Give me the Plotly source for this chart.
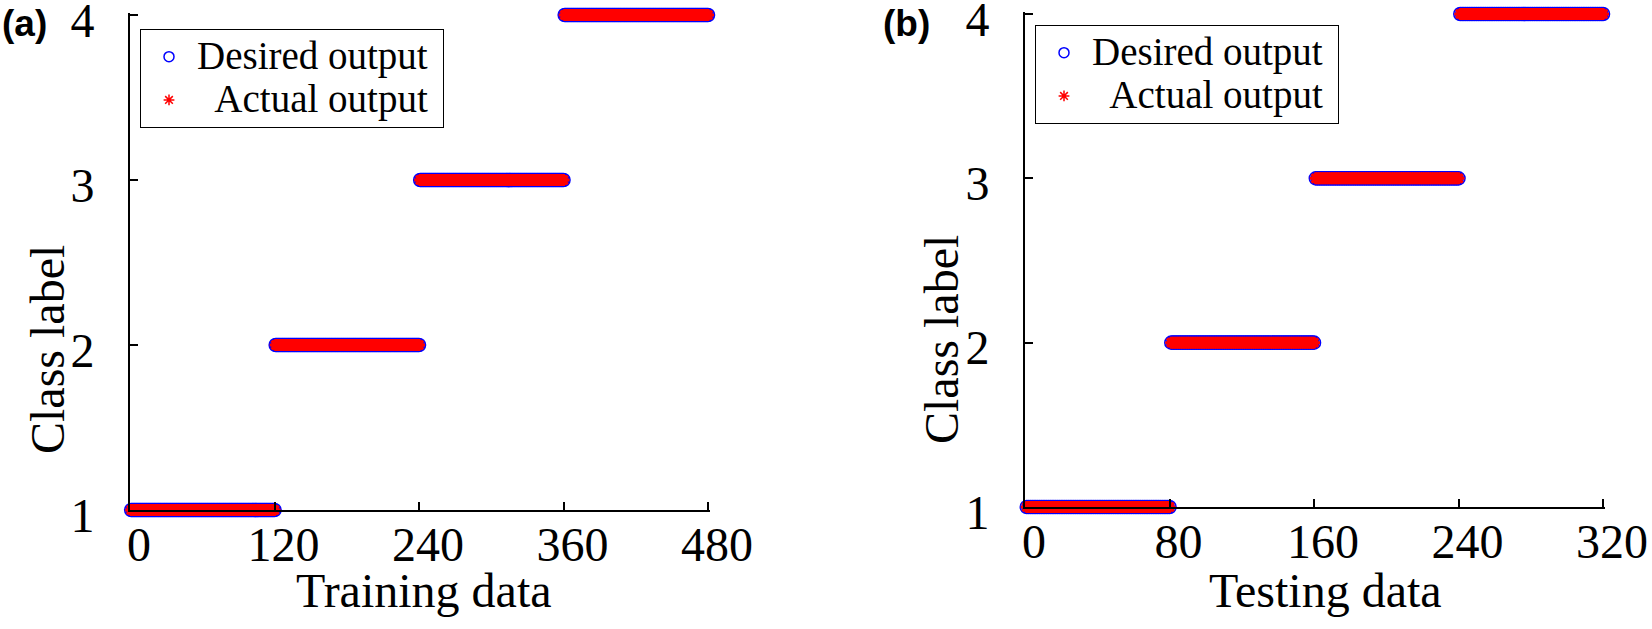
import numpy as np
import plotly.graph_objects as go

# ---- data ----
class_labels = [1, 2, 3, 4]
train_counts = [120, 120, 120, 120]
test_counts = [80, 80, 80, 80]
# actual output equals desired output in both sets (perfect classification)
train_actual_labels = [1, 2, 3, 4]
test_actual_labels = [1, 2, 3, 4]

train_ticks = [0, 120, 240, 360, 480]
test_ticks = [0, 80, 160, 240, 320]
y_ticks = [1, 2, 3, 4]

train_desired = np.repeat(class_labels, train_counts)
train_actual = np.repeat(train_actual_labels, train_counts)
train_x = np.arange(1, len(train_desired) + 1)
test_desired = np.repeat(class_labels, test_counts)
test_actual = np.repeat(test_actual_labels, test_counts)
test_x = np.arange(1, len(test_desired) + 1)

FW, FH = 1652, 629


def px(x):
    return x / FW


def py(y):
    return (FH - y) / FH


SERIF = "Liberation Serif"
BLUE = "#0000ff"
RED = "#ff0000"
LEG_TXT = 39  # legend text size (item spacing is set by legend.font.size)


def leg_name(s):
    return '<span style="font-size:%dpx">%s</span>' % (LEG_TXT, s)


fig = go.Figure()


def add_panel(xs, yd, ya, xa, ya_name, legend):
    fig.add_trace(go.Scatter(x=xs, y=yd, mode="markers", xaxis=xa, yaxis=ya_name,
                             marker=dict(symbol="circle-open", size=13, color=BLUE,
                                         line=dict(color=BLUE, width=1.6)),
                             showlegend=False, cliponaxis=False, hoverinfo="skip"))
    fig.add_trace(go.Scatter(x=xs, y=ya, mode="markers", xaxis=xa, yaxis=ya_name,
                             marker=dict(symbol="asterisk", size=10, color=RED,
                                         line=dict(color=RED, width=3)),
                             showlegend=False, cliponaxis=False, hoverinfo="skip"))
    # legend-only entries with small symbols
    fig.add_trace(go.Scatter(x=[None], y=[None], mode="markers", xaxis=xa, yaxis=ya_name,
                             name=leg_name("Desired output "), legend=legend,
                             marker=dict(symbol="circle-open", size=10, color=BLUE,
                                         line=dict(color=BLUE, width=1.5))))
    fig.add_trace(go.Scatter(x=[None], y=[None], mode="markers", xaxis=xa, yaxis=ya_name,
                             name=leg_name("  Actual output"), legend=legend,
                             marker=dict(symbol="asterisk", size=9, color=RED,
                                         line=dict(color=RED, width=1.5))))


add_panel(train_x, train_desired, train_actual, "x", "y", "legend")
add_panel(test_x, test_desired, test_actual, "x2", "y2", "legend2")

ax_common = dict(showline=True, linecolor="black", linewidth=2, mirror=False,
                 ticks="inside", ticklen=8, tickwidth=1.5, tickcolor="black",
                 showgrid=False, zeroline=False, automargin=False,
                 ticklabeloverflow="allow",
                 tickfont=dict(family=SERIF, size=48, color="black"))

XE = 0.004   # small range extension so the end ticks are drawn
YE = 0.004

legend_common = dict(xanchor="left", yanchor="top", bgcolor="white",
                     bordercolor="black", borderwidth=1,
                     font=dict(family=SERIF, size=31, color="black"),
                     itemwidth=46, tracegroupgap=0)

fig.update_layout(
    width=FW, height=FH,
    margin=dict(l=0, r=0, t=0, b=0, autoexpand=False),
    paper_bgcolor="white", plot_bgcolor="white",
    hovermode=False,
    xaxis=dict(domain=[px(130), px(708 + 578 * XE)], range=[0, 480 * (1 + XE)],
               tickvals=train_ticks, anchor="y", ticklabelstandoff=-9,
               ticklabelshift=9, **ax_common),
    yaxis=dict(domain=[py(510), py(15 - 495 * YE)], range=[1, 4 + 3 * YE],
               tickvals=y_ticks, anchor="x", ticklabelstandoff=24,
               ticklabelshift=5, **ax_common),
    xaxis2=dict(domain=[px(1025), px(1603 + 578 * XE)], range=[0, 320 * (1 + XE)],
                tickvals=test_ticks, anchor="y2", ticklabelstandoff=-9,
                ticklabelshift=9, **ax_common),
    yaxis2=dict(domain=[py(507), py(14 - 493 * YE)], range=[1, 4 + 3 * YE],
                tickvals=y_ticks, anchor="x2", ticklabelstandoff=24,
                ticklabelshift=5, **ax_common),
    legend=dict(x=px(140), y=py(29), **legend_common),
    legend2=dict(x=px(1035), y=py(25), **legend_common),
    annotations=[
        dict(text="(a)", x=px(0), y=py(1), xref="paper", yref="paper", xanchor="left",
             yanchor="top", showarrow=False,
             font=dict(family="Liberation Sans", size=37, color="black", weight="bold")),
        dict(text="(b)", x=px(881), y=py(1), xref="paper", yref="paper", xanchor="left",
             yanchor="top", showarrow=False,
             font=dict(family="Liberation Sans", size=37, color="black", weight="bold")),
        dict(text="Training data", x=px(424), y=py(590), xref="paper", yref="paper",
             xanchor="center", yanchor="middle", showarrow=False,
             font=dict(family=SERIF, size=48, color="black")),
        dict(text="Testing data", x=px(1325), y=py(590), xref="paper", yref="paper",
             xanchor="center", yanchor="middle", showarrow=False,
             font=dict(family=SERIF, size=48, color="black")),
        dict(text="Class label", x=px(47), y=py(350), xref="paper", yref="paper",
             xanchor="center", yanchor="middle", showarrow=False, textangle=-90,
             font=dict(family=SERIF, size=48, color="black")),
        dict(text="Class label", x=px(941), y=py(340), xref="paper", yref="paper",
             xanchor="center", yanchor="middle", showarrow=False, textangle=-90,
             font=dict(family=SERIF, size=48, color="black")),
    ],
)

# remove the browser's default page margin so the figure fills the window exactly
fig.write_html("out.html", config={"displayModeBar": False},
               post_script="document.body.style.margin='0px';")
